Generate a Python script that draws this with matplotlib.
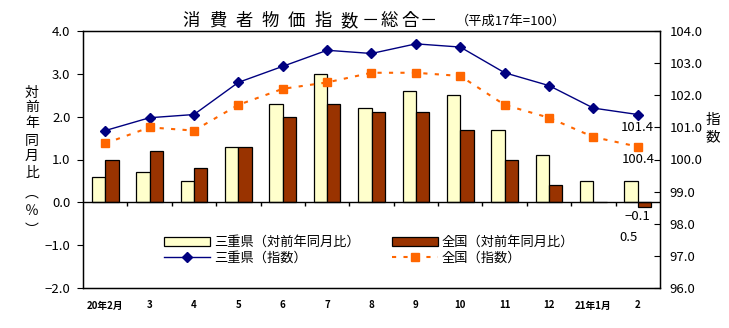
import matplotlib
matplotlib.use('Agg')
import matplotlib.pyplot as plt
import numpy as np
from matplotlib.lines import Line2D
from matplotlib.patches import Patch
from matplotlib.ticker import FuncFormatter

plt.rcParams['font.family'] = ['Noto Sans CJK JP', 'DejaVu Sans']

# ---- data ----
months = ['20年2月', '3', '4', '5', '6', '7', '8', '9', '10', '11', '12', '21年1月', '2']
mie_yoy = [0.6, 0.7, 0.5, 1.3, 2.3, 3.0, 2.2, 2.6, 2.5, 1.7, 1.1, 0.5, 0.5]
nat_yoy = [1.0, 1.2, 0.8, 1.3, 2.0, 2.3, 2.1, 2.1, 1.7, 1.0, 0.4, 0.0, -0.1]
mie_idx = [100.9, 101.3, 101.4, 102.4, 102.9, 103.4, 103.3, 103.6, 103.5, 102.7, 102.3, 101.6, 101.4]
nat_idx = [100.5, 101.0, 100.9, 101.7, 102.2, 102.4, 102.7, 102.7, 102.6, 101.7, 101.3, 100.7, 100.4]
left_ticks = [-2, -1, 0, 1, 2, 3, 4]
right_ticks = [96, 97, 98, 99, 100, 101, 102, 103, 104]
lab_mie_yoy = '三重県（対前年同月比）'
lab_nat_yoy = '全国（対前年同月比）'
lab_mie_idx = '三重県（指数）'
lab_nat_idx = '全国（指数）'

C_MIE_BAR = '#FFFFCC'
C_NAT_BAR = '#993300'
C_MIE_LINE = '#000080'
C_NAT_LINE = '#FF6600'

W, H = 729, 328
fig = plt.figure(figsize=(W / 100, H / 100), dpi=100)
ax = fig.add_axes([83 / W, 1 - 288 / H, (660 - 83) / W, (288 - 31) / H])
x = np.arange(len(months))
bw = 0.3
ax.bar(x - bw / 2, mie_yoy, bw, color=C_MIE_BAR, edgecolor='black', linewidth=0.9, zorder=2)
ax.bar(x + bw / 2, nat_yoy, bw, color=C_NAT_BAR, edgecolor='black', linewidth=0.9, zorder=2)
ax.set_xlim(-0.5, len(months) - 0.5)
ax.set_ylim(-2, 4)
ax.set_yticks(left_ticks)
ax.yaxis.set_major_formatter(FuncFormatter(lambda v, p: f'{v:.1f}'.replace('-', '−')))
ax.set_xticks(x)
ax.set_xticklabels(months, fontweight='bold')
ax.tick_params(axis='x', length=0, pad=9, labelsize=7)
ax.tick_params(axis='y', direction='out', length=4, pad=5, labelsize=9.5)
ax.axhline(0, color='black', lw=1, zorder=3)
ax.vlines(np.arange(0.5, len(months) - 0.5, 1), -0.08, 0, color='black', lw=1, zorder=3)
for s in ax.spines.values():
    s.set_linewidth(1)

ax2 = ax.twinx()
ax2.set_ylim(96, 104)
ax2.set_yticks(right_ticks)
ax2.yaxis.set_major_formatter(FuncFormatter(lambda v, p: f'{v:.1f}'))
ax2.tick_params(axis='y', direction='in', length=4, pad=7, labelsize=9.5)
ax2.plot(x, mie_idx, color=C_MIE_LINE, lw=1, marker='D', markersize=5, zorder=4)
ax2.plot(x, nat_idx, color=C_NAT_LINE, lw=1.5, linestyle=(0, (2, 3.5)), marker='s',
         markersize=5.5, zorder=4)

# annotations
ax2.annotate(f'{mie_idx[-1]:.1f}', xy=(x[-1], mie_idx[-1]), xytext=(0, -13),
             textcoords='offset pixels', ha='center', va='center', fontsize=9.5)
ax2.annotate(f'{nat_idx[-1]:.1f}', xy=(x[-1], nat_idx[-1]), xytext=(0, -13),
             textcoords='offset pixels', ha='center', va='center', fontsize=9.5)
ax.annotate(f'{nat_yoy[-1]:.1f}'.replace('-', '−'), xy=(x[-1], nat_yoy[-1]), xytext=(0, -10),
            textcoords='offset pixels', ha='center', va='center', fontsize=9.5)
ax.annotate(f'{mie_yoy[-1]:.1f}', xy=(x[-1], 0), xytext=(-9, -35),
            textcoords='offset pixels', ha='center', va='center', fontsize=9.5)

# legend
handles = [
    Patch(facecolor=C_MIE_BAR, edgecolor='black', linewidth=0.9),
    Line2D([], [], color=C_MIE_LINE, lw=1, marker='D', markersize=5),
    Patch(facecolor=C_NAT_BAR, edgecolor='black', linewidth=0.9),
    Line2D([], [], color=C_NAT_LINE, lw=1.5, linestyle=(0, (2, 3.5)), marker='s', markersize=5.5),
]
labels = [lab_mie_yoy, lab_mie_idx, lab_nat_yoy, lab_nat_idx]
ax2.legend(handles, labels, ncol=2, frameon=False, loc='upper left',
           bbox_to_anchor=(164 / W, 1 - 236 / H), bbox_transform=fig.transFigure,
           borderpad=0, borderaxespad=0, handlelength=3.5, handletextpad=0.3,
           columnspacing=2.4, labelspacing=0.2, fontsize=9.5, numpoints=1)

# title
title_chars = '消費者物価指数'
for i, ch in enumerate(title_chars):
    fig.text((191 + 26.4 * i) / W, 1 - 21 / H, ch, ha='center', va='center', fontsize=12.5)
for cx, ch in zip([370, 389.5, 410, 428], '－総合－'):
    fig.text(cx / W, 1 - 21 / H, ch, ha='center', va='center', fontsize=12.5)
fig.text(511 / W, 1 - 21.5 / H, '（平成17年=100）', ha='center', va='center', fontsize=9.5)

# y labels (vertical)
ylab_chars = ['対', '前', '年', '同', '月', '比', '︵', '％', '︶']
ylab_pos = [92.5, 107.5, 123, 140.5, 156, 172.5, 193, 211, 229.5]
for ch, yy in zip(ylab_chars, ylab_pos):
    fig.text(32 / W, 1 - yy / H, ch, ha='center', va='center', fontsize=10)
for ch, yy in zip(['指', '数'], [120, 137]):
    fig.text(713 / W, 1 - yy / H, ch, ha='center', va='center', fontsize=10.5)

fig.savefig('out.png', dpi=100)
